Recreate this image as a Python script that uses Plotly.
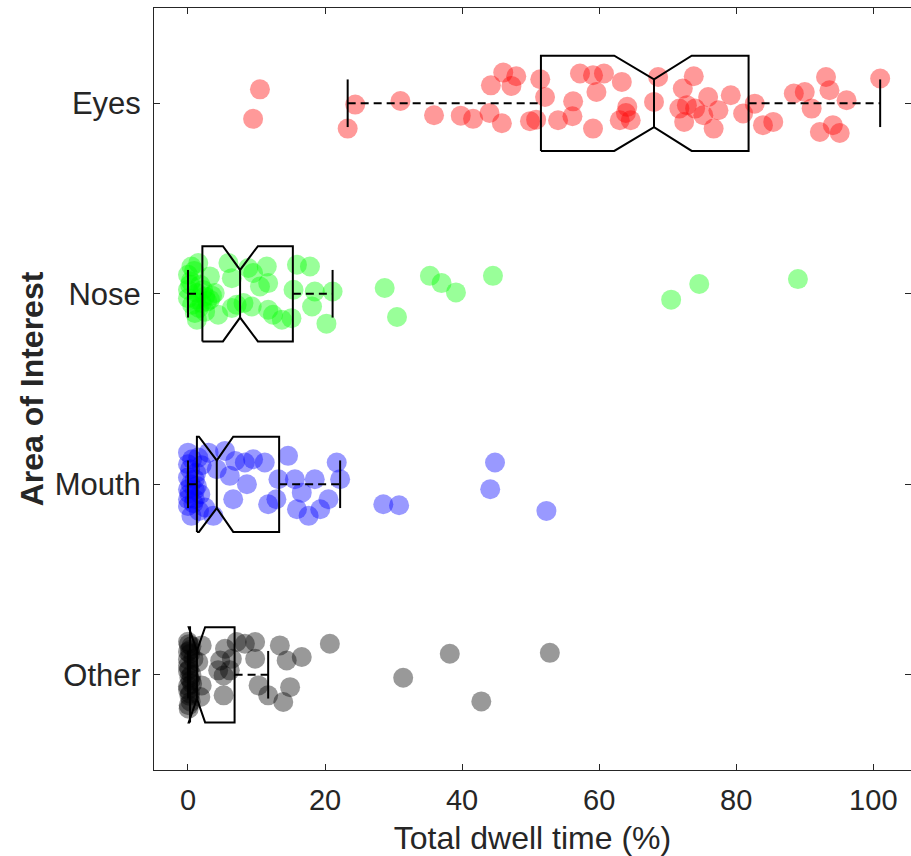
import plotly.graph_objects as go

categories = ["Other", "Mouth", "Nose", "Eyes"]
colors = ["rgba(0,0,0,0.4)", "rgba(0,0,255,0.4)", "rgba(0,255,0,0.4)", "rgba(255,0,0,0.4)"]

# Points: dwell time (%) and vertical jitter
eyes_x = [10.5, 9.5, 24.4, 23.3, 31.0, 35.9, 39.8, 41.6, 44.0, 45.8, 44.2, 46.0, 47.9, 47.2, 49.9, 50.8,
          51.4, 52.1, 54.0, 56.2, 56.1, 57.2, 59.1, 60.7, 59.6, 63.3, 59.1, 63.0, 63.9, 64.1, 64.6,
          68.0, 68.6, 72.2, 73.8, 71.7, 72.8, 72.4, 74.0, 75.9, 77.4, 76.7, 75.2, 79.2, 81.0, 82.7,
          83.9, 85.4, 88.4, 90.0, 91.0, 93.1, 93.6, 96.1, 92.2, 94.1, 95.1, 101.0]
eyes_j = [0.073, -0.082, -0.007, -0.133, 0.012, -0.063, -0.065, -0.082, -0.051, -0.105, 0.094, 0.161, 0.142, 0.091, -0.094, -0.086,
          0.126, 0.033, -0.089, 0.010, -0.068, 0.156, 0.147, 0.156, 0.059, 0.112, -0.133, -0.089, -0.051, -0.019, -0.089,
          0.007, 0.138, 0.077, 0.142, -0.028, -0.010, -0.098, -0.028, 0.033, -0.037, -0.133, -0.063, 0.042, -0.054, -0.002,
          -0.115, -0.098, 0.051, 0.059, -0.028, 0.138, 0.068, 0.016, -0.151, -0.115, -0.156, 0.130]

nose_x = [0.5, 1.5, 0.0, 0.3, 0.0, 1.3, 2.5, 2.0, 1.0, 1.3, 3.2, 3.9, 4.4, 5.9, 6.4, 7.1, 6.4, 8.8, 9.5, 8.1,
          9.3, 11.5, 11.7, 10.5, 11.7, 12.4, 13.7, 15.1, 15.9, 17.8, 15.4, 18.5, 18.1, 21.1, 20.2, 28.7,
          30.5, 35.3, 37.0, 39.1, 44.5, 70.5, 74.6, 89.0, 0.0, 1.8, 2.5, 0.6, 3.2,
          1.2, 2.8, 0.4, 2.2, 1.6, 3.5, 0.9]
nose_j = [0.143, 0.161, 0.100, 0.047, -0.023, 0.004, -0.014, -0.049, -0.101, -0.136, 0.091, 0.004, -0.110, 0.161, 0.082, -0.058,
          -0.075, 0.135, 0.109, -0.049, -0.067, 0.143, 0.056, 0.038, -0.084, -0.110, -0.136, -0.128, 0.152, 0.143, 0.021,
          0.012, -0.067, 0.012, -0.157, 0.030, -0.122, 0.094, 0.056, 0.007, 0.094, -0.031, 0.051, 0.077, 0.021, 0.047,
          -0.094, -0.058, -0.031,
          -0.030, -0.040, 0.065, 0.020, -0.075, -0.010, 0.120]

mouth_x = [0.0, 0.0, 0.0, 0.0, 0.0, 0.5, 1.5, 1.3, 1.0, 2.5, 3.7, 3.0, 4.2, 5.4, 6.1, 6.6, 6.9, 8.3, 8.6, 9.5,
           11.2, 11.7, 12.9, 13.2, 14.6, 15.6, 16.6, 15.9, 17.6, 18.5, 19.3, 20.5, 21.7, 22.2, 28.5, 30.8,
           44.8, 44.1, 52.3, 0.3, 1.0, 1.8, 0.0, 0.6,
           0.8, 1.6, 0.2, 1.2, 2.0, 0.4, 1.0]
mouth_j = [0.166, 0.105, 0.035, -0.026, -0.114, -0.166, 0.140, -0.009, -0.079, -0.122, -0.166, 0.166, 0.079, 0.175, 0.044,
           -0.079, 0.122, 0.114, 0.000, 0.131, 0.114, -0.105, -0.079, 0.026, 0.149, 0.026, -0.044, -0.131, -0.166, 0.026,
           -0.131, -0.079, 0.114, 0.026, -0.105, -0.110, 0.114, -0.026, -0.140, 0.079, 0.026, -0.052, -0.079, 0.131,
           -0.100, -0.140, -0.050, 0.060, 0.100, 0.000, -0.030]

other_x = [0.0, 0.3, 0.0, 0.2, 0.0, 0.4, 0.1, 0.5, 0.6, 0.8, 0.2, 0.0,
           2.0, 2.0, 1.8, 1.5, 4.7, 5.4, 6.4, 6.1, 5.2, 4.4, 5.2, 7.1, 8.3, 9.8, 9.8, 10.3, 11.7,
           13.4, 14.4, 16.6, 14.9, 13.9, 20.7, 31.4, 38.2, 42.8, 52.8,
           0.1, 0.3, 0.0, 0.2, 0.4, 0.0, 0.3, 0.1, 0.5, 0.0]
other_j = [0.173, 0.110, 0.047, -0.016, -0.079, -0.142, -0.178, 0.150, -0.047, 0.084, -0.110, 0.020,
           0.154, -0.056, -0.117, 0.067, 0.075, 0.136, 0.084, 0.023, -0.004, 0.023, -0.108, 0.172, 0.163, 0.172, 0.084,
           -0.056, -0.108, 0.154, 0.075, 0.093, -0.065, -0.143, 0.163, -0.016, 0.110, -0.140, 0.115,
           0.160, 0.130, 0.080, 0.030, -0.030, -0.060, -0.100, -0.160, 0.000, 0.120]

# Box statistics per category (Other, Mouth, Nose, Eyes)
whisker_lo = [0.0, 0.0, 0.0, 23.3]
q1 = [0.3, 1.3, 2.1, 51.5]
notch_lo = [0.1, 1.6, 5.1, 62.2]
median = [1.3, 4.2, 7.6, 68.0]
notch_hi = [2.5, 6.6, 10.2, 73.5]
q3 = [6.8, 13.3, 15.3, 81.8]
whisker_hi = [11.7, 22.2, 21.1, 101.0]

xs = [other_x, mouth_x, nose_x, eyes_x]
js = [other_j, mouth_j, nose_j, eyes_j]

BOX_H = 0.25
NOTCH_H = 0.125
CAP_H = 0.125

fig = go.Figure()
for i in range(4):
    c = i + 1
    fig.add_trace(go.Scatter(
        x=xs[i], y=[c + j for j in js[i]], mode="markers",
        marker=dict(size=20, color=colors[i], line=dict(width=0)),
        showlegend=False, hoverinfo="skip"))

line_col = "black"
for i in range(4):
    c = i + 1
    bx = [q1[i], notch_lo[i], median[i], notch_hi[i], q3[i], q3[i], notch_hi[i], median[i], notch_lo[i], q1[i], q1[i]]
    by = [c - BOX_H, c - BOX_H, c - NOTCH_H, c - BOX_H, c - BOX_H, c + BOX_H, c + BOX_H, c + NOTCH_H, c + BOX_H, c + BOX_H, c - BOX_H]
    fig.add_trace(go.Scatter(x=bx, y=by, mode="lines", line=dict(color=line_col, width=2),
                             showlegend=False, hoverinfo="skip"))
    fig.add_trace(go.Scatter(x=[median[i], median[i]], y=[c - NOTCH_H, c + NOTCH_H], mode="lines",
                             line=dict(color=line_col, width=2), showlegend=False, hoverinfo="skip"))
    fig.add_trace(go.Scatter(x=[whisker_lo[i], q1[i], None, q3[i], whisker_hi[i]], y=[c, c, None, c, c],
                             mode="lines", line=dict(color=line_col, width=2, dash="8px,5px"),
                             showlegend=False, hoverinfo="skip"))
    fig.add_trace(go.Scatter(x=[whisker_lo[i], whisker_lo[i], None, whisker_hi[i], whisker_hi[i]],
                             y=[c - CAP_H, c + CAP_H, None, c - CAP_H, c + CAP_H],
                             mode="lines", line=dict(color=line_col, width=2),
                             showlegend=False, hoverinfo="skip"))

axis_col = "#262626"
fig.update_layout(
    width=911, height=856,
    margin=dict(l=154, r=0, t=8, b=86),
    plot_bgcolor="white", paper_bgcolor="white",
    font=dict(family="Liberation Sans, Arial, sans-serif", size=30, color=axis_col),
    xaxis=dict(range=[-4.96, 105.5], tickvals=[0, 20, 40, 60, 80, 100],
               ticks="inside", ticklen=6, tickcolor=axis_col, showline=True, linecolor=axis_col,
               linewidth=1, mirror="ticks", showgrid=False, zeroline=False,
               ticklabelstandoff=4,
               title=dict(text="Total dwell time (%)", font=dict(size=32), standoff=12),
               tickfont=dict(size=29)),
    yaxis=dict(range=[0.5, 4.5], tickvals=[1, 2, 3, 4], ticktext=categories,
               ticks="inside", ticklen=6, tickcolor=axis_col, showline=True, linecolor=axis_col,
               linewidth=1, mirror="ticks", showgrid=False, zeroline=False,
               ticklabelstandoff=6,
               title=dict(text="<b>Area of Interest</b>", font=dict(size=32), standoff=1),
               tickfont=dict(size=31)),
)

fig.write_html("out.html")
